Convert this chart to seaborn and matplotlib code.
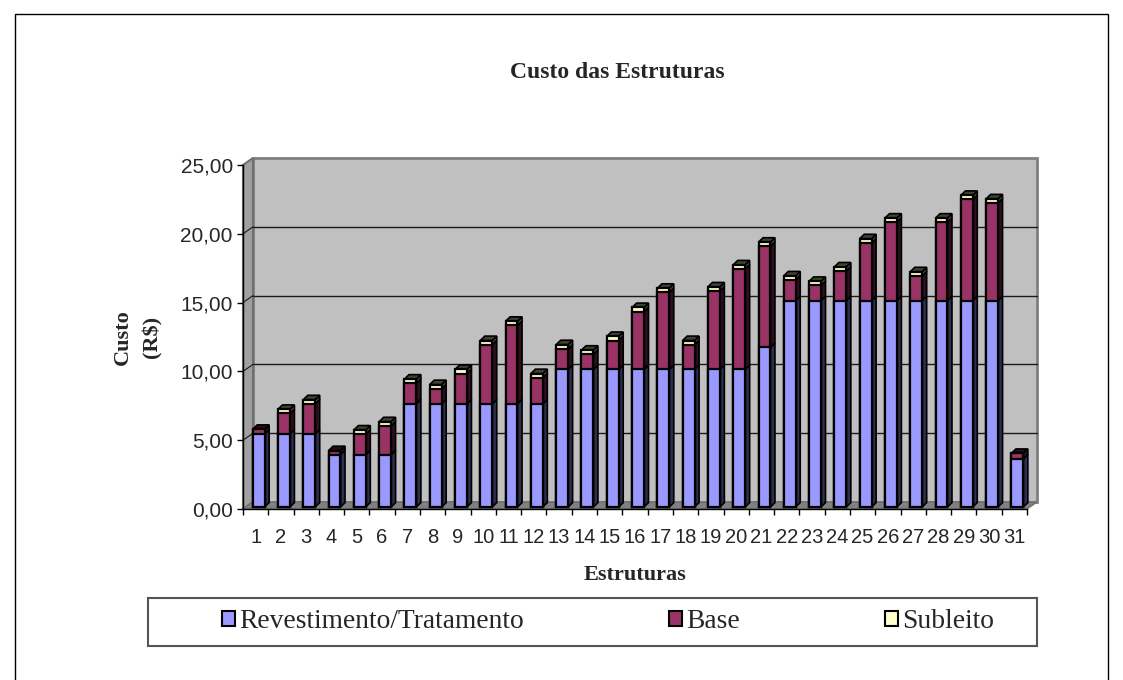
import numpy as np
import pandas as pd
import seaborn as sns
import matplotlib.pyplot as plt
import matplotlib.transforms as mtransforms
from matplotlib.patches import Polygon, Rectangle
from matplotlib.colors import to_rgb

# valores (R$)
estruturas = [str(i) for i in range(1, 32)]
revestimento = [5.3, 5.3, 5.3, 3.8, 3.8, 3.8, 7.5, 7.5, 7.5, 7.5, 7.5, 7.5,
                10.0, 10.0, 10.0, 10.0, 10.0, 10.0, 10.0, 10.0, 11.6,
                15.0, 15.0, 15.0, 15.0, 15.0, 15.0, 15.0, 15.0, 15.0, 3.5]
base = [0.35, 1.5, 2.2, 0.3, 1.5, 2.1, 1.5, 1.1, 2.2, 4.3, 5.7, 1.9,
        1.5, 1.1, 2.1, 4.2, 5.6, 1.8, 5.7, 7.3, 7.35,
        1.5, 1.1, 2.15, 4.2, 5.7, 1.8, 5.7, 7.35, 7.1, 0.4]
subleito = [0.0, 0.3, 0.3, 0.0, 0.3, 0.3, 0.3, 0.3, 0.3, 0.3, 0.3, 0.3,
            0.3, 0.3, 0.3, 0.3, 0.3, 0.3, 0.3, 0.3, 0.3,
            0.3, 0.3, 0.3, 0.3, 0.3, 0.3, 0.3, 0.3, 0.3, 0.0]
series = ['Revestimento/Tratamento', 'Base', 'Subleito']
cores = ['#9999FF', '#993366', '#FFFFCC']

df = pd.DataFrame({'Estrutura': estruturas, 'Revestimento': revestimento,
                   'Base': base, 'Subleito': subleito})
df['c1'] = df['Revestimento']
df['c2'] = df['c1'] + df['Base']
df['c3'] = df['c2'] + df['Subleito']

sns.set_style('white')
plt.rcParams['font.family'] = ['Liberation Sans', 'DejaVu Sans']
serif = ['Liberation Serif', 'DejaVu Serif']

fig = plt.figure(figsize=(11.23, 6.8), dpi=100)
ax = fig.add_axes([243 / 1123, 171 / 680, 784 / 1123, 344 / 680])
ax.set_facecolor('none')
ymax = 25
ox, oy = 10 / 784, 7 / 344  # profundidade 3D da parede (fracao do eixo)

# parede do fundo, lateral e piso
ax.add_patch(Rectangle((ox, oy), 1, 1, transform=ax.transAxes, fc='#C0C0C0',
                       ec='#808080', lw=2, clip_on=False, zorder=0.1))
ax.add_patch(Polygon([(0, 0), (ox, oy), (ox, 1 + oy), (0, 1)], transform=ax.transAxes,
                     fc='#A0A0A0', ec='#707070', lw=1.5, clip_on=False, zorder=0.2))
ax.add_patch(Polygon([(0, 0), (1, 0), (1 + ox, oy), (ox, oy)], transform=ax.transAxes,
                     fc='#808080', ec='#707070', lw=1, clip_on=False, zorder=0.2))
for v in [5, 10, 15, 20]:
    f = v / ymax
    ax.plot([ox, 1 + ox], [f + oy, f + oy], transform=ax.transAxes, color='#1a1a1a',
            lw=1, clip_on=False, zorder=0.5)
    ax.plot([0, ox], [f, f + oy], transform=ax.transAxes, color='#1a1a1a',
            lw=0.8, clip_on=False, zorder=0.5)

# barras empilhadas: total primeiro, depois as camadas de baixo por cima
for col, cor in zip(['c3', 'c2', 'c1'], cores[::-1]):
    sns.barplot(data=df, x='Estrutura', y=col, color=cor, saturation=1, width=0.47,
                errorbar=None, edgecolor='black', linewidth=1.6, ax=ax, zorder=3)

# as barras ficam um pouco atras do plano da frente
trans_barra = mtransforms.offset_copy(ax.transData, fig=fig, x=3, y=2, units='dots')
for p in ax.patches:
    if p.get_zorder() == 3:
        p.set_transform(trans_barra)
        p.set_clip_on(False)


def escuro(c, k=0.3):
    return tuple(x * k for x in to_rgb(c))


dx, dy = 0.18, 0.32
for p, (_, row) in zip(ax.containers[-1], df.iterrows()):
    x0 = p.get_x()
    x1 = x0 + p.get_width()
    segs = [(0, row.c1, cores[0]), (row.c1, row.c2, cores[1]), (row.c2, row.c3, cores[2])]
    topo = cores[0]
    for b, t, cor in segs:
        if t - b <= 0:
            continue
        topo = cor
        ax.add_patch(Polygon([(x1, b), (x1 + dx, b + dy), (x1 + dx, t + dy), (x1, t)],
                             fc=escuro(cor), ec='black', lw=1.2, zorder=2.9,
                             transform=trans_barra, clip_on=False))
    T = row.c3
    ax.add_patch(Polygon([(x0, T), (x1, T), (x1 + dx, T + dy), (x0 + dx, T + dy)],
                         fc=escuro(topo, 0.25), ec='black', lw=1.2, zorder=2.9,
                         transform=trans_barra, clip_on=False))

ax.set_ylim(0, ymax)
ax.set_xlim(-0.5, len(estruturas) - 0.5)
ax.set_yticks(np.arange(0, 26, 5))
ax.set_yticklabels([f'{v:.2f}'.replace('.', ',') for v in np.arange(0, 26, 5)])
ax.set_xticks(range(len(estruturas)))
ax.set_xticklabels(estruturas)
ax.set_xticks(np.arange(-0.5, len(estruturas), 1), minor=True)
ax.tick_params(axis='y', length=4.3, width=1, color='black', labelsize=15, pad=3, left=True)
ax.tick_params(axis='x', which='major', length=0, labelsize=14.5, pad=14)
ax.tick_params(axis='x', which='minor', length=4.3, width=1, color='black', bottom=True)
for s in ['top', 'right']:
    ax.spines[s].set_visible(False)
for s in ['left', 'bottom']:
    ax.spines[s].set_color('black')
    ax.spines[s].set_linewidth(1)
    ax.spines[s].set_zorder(4)

ax.set_xlabel('Estruturas', family=serif, fontweight='bold', fontsize=16, labelpad=13)
ax.set_ylabel('Custo\n(R$)', family=serif, fontweight='bold', fontsize=16, labelpad=13,
              linespacing=1.6)
fig.text(617 / 1123, 1 - 72 / 680, 'Custo das Estruturas', family=serif,
         fontweight='bold', fontsize=17, ha='center', va='center')

handles = [Rectangle((0, 0), 1, 1, fc=c, ec='black', lw=1.5) for c in cores]
fig.legend(handles, series, loc='center', bbox_to_anchor=(608 / 1123, 1 - 622 / 680),
           ncol=3, frameon=False, prop={'family': serif, 'size': 19.8},
           handlelength=0.45, handleheight=0.45, handletextpad=0.15, columnspacing=5.3)
fig.patches.append(Rectangle((148 / 1123, 34 / 680), 889 / 1123, 48 / 680,
                             transform=fig.transFigure, fill=False, ec='#555555', lw=1.5))
fig.patches.append(Rectangle((15 / 1123, -0.01), 1093 / 1123, 666 / 680 + 0.01,
                             transform=fig.transFigure, fill=False, ec='black', lw=1))

fig.savefig('out.png', dpi=100)
